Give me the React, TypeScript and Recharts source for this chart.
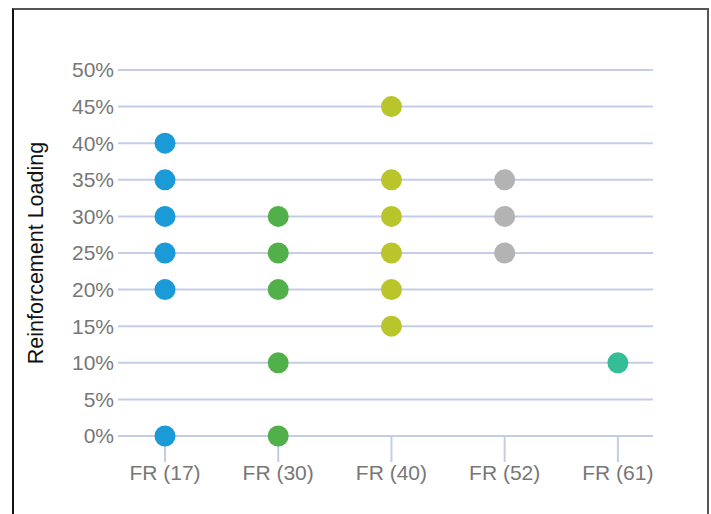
import React from "react";
import { ScatterChart, Scatter, XAxis, YAxis, CartesianGrid } from "recharts";

const categories = ["FR (17)", "FR (30)", "FR (40)", "FR (52)", "FR (61)"];
const colors = ["#1a9ad6", "#52b04a", "#b9c52a", "#b3b3b3", "#35bd97"];

const fr17 = [0, 20, 25, 30, 35, 40];
const fr30 = [0, 10, 20, 25, 30];
const fr40 = [15, 20, 25, 30, 35, 45];
const fr52 = [25, 30, 35];
const fr61 = [10];

const yTicks = [0, 5, 10, 15, 20, 25, 30, 35, 40, 45, 50];

const seriesValues = [fr17, fr30, fr40, fr52, fr61];

const GRID = "#c5cce8";

const Dot = (props: any) => {
  const { cx, cy, fill } = props;
  if (cx == null || cy == null) return null;
  return <circle cx={cx} cy={cy} r={10.5} fill={fill} />;
};

const App: React.FC = () => (
  <div style={{ position: "absolute", left: 0, top: 0, width: 711, height: 514, overflow: "hidden", background: "#fff" }}>
    <div
      style={{
        position: "absolute",
        left: 12,
        top: 8,
        width: 693,
        height: 530,
        borderLeft: "2px solid #111",
        borderTop: "2px solid #555",
        borderRight: "2px solid #555",
      }}
    />
    <div style={{ position: "absolute", left: 0, top: 0 }}>
      <ScatterChart width={711} height={514} margin={{ top: 70, right: 58, bottom: 0, left: 0 }}>
        <CartesianGrid horizontal vertical={false} stroke={GRID} strokeWidth={2} />
        <XAxis
          type="number"
          dataKey="x"
          domain={[-0.415, 4.31]}
          ticks={[0, 1, 2, 3, 4]}
          tickFormatter={(v: number) => categories[v] ?? ""}
          axisLine={false}
          tickLine={{ stroke: GRID, strokeWidth: 2 }}
          tickSize={26}
          tickMargin={3}
          height={78}
          tick={{ fill: "#777", fontSize: 21, fontFamily: "Liberation Sans, Arial, sans-serif" }}
          allowDataOverflow
        />
        <YAxis
          type="number"
          dataKey="y"
          domain={[0, 50]}
          ticks={yTicks}
          tickFormatter={(v: number) => `${v}%`}
          axisLine={false}
          tickLine={false}
          tickSize={2}
          tickMargin={2}
          width={118}
          tick={{ fill: "#777", fontSize: 21, fontFamily: "Liberation Sans, Arial, sans-serif" }}
          label={{
            value: "Reinforcement Loading",
            angle: -90,
            position: "center",
            dx: -24,
            style: { fill: "#111", fontSize: 21.5, fontFamily: "Liberation Sans, Arial, sans-serif" },
          }}
        />
        {seriesValues.map((vals, i) => (
          <Scatter
            key={categories[i]}
            name={categories[i]}
            data={vals.map((v) => ({ x: i, y: v }))}
            fill={colors[i]}
            shape={<Dot />}
            isAnimationActive={false}
          />
        ))}
      </ScatterChart>
    </div>
  </div>
);

export default App;
